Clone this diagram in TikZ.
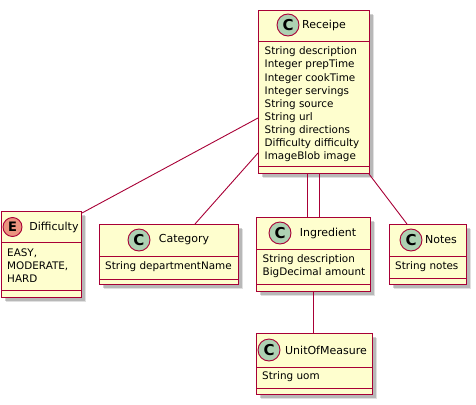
\documentclass[tikz,border=0pt]{standalone}
\usepackage{fontspec}
\setmainfont{DejaVu Sans}
\usetikzlibrary{calc,shadows}
\definecolor{umlfill}{HTML}{FEFECE}
\definecolor{umlline}{HTML}{A80036}
\definecolor{cspot}{HTML}{ADD1B2}
\definecolor{espot}{HTML}{EB937F}
\begin{document}
\begin{tikzpicture}[x=1pt,y=-1pt,
 classbox/.style={draw=umlline, fill=umlfill, line width=1pt, rectangle, inner sep=0pt, anchor=north west,
   general shadow={shadow xshift=4.5pt, shadow yshift=-4.5pt, opacity=0.12, fill=black},
   general shadow={shadow xshift=3.5pt, shadow yshift=-3.5pt, opacity=0.18, fill=black}},
 sepline/.style={draw=umlline, line width=1pt},
 link/.style={draw=umlline, line width=0.9pt},
 spotc/.style={circle, draw=umlline, fill=cspot, line width=0.9pt, minimum size=22pt, inner sep=0pt,
   font=\fontsize{15}{15}\selectfont\bfseries},
 spote/.style={spotc, fill=espot, minimum size=19pt, font=\fontsize{13}{13}\selectfont\bfseries},
 ctitle/.style={font=\fontsize{11}{13}\selectfont, inner sep=0pt},
 attr/.style={font=\fontsize{10.4}{12}\selectfont, inner sep=0pt, anchor=west},
]
\useasboundingbox (0,0) rectangle (476,404);

% Receipe
\node[classbox, minimum width=111pt, minimum height=163pt] (rec) at (258,10) {};
\draw[sepline] ($(rec.north west)+(0,32)$) -- ($(rec.north east)+(0,32)$);
\draw[sepline] ($(rec.south west)+(0,-8)$) -- ($(rec.south east)+(0,-8)$);
\node[spotc] (recspot) at (288,25) {C};
\node[ctitle] (rectitle) at (324,25) {Receipe};
\foreach \t [count=\i from 0] in {String description,Integer prepTime,Integer cookTime,Integer servings,String source,String url,String directions,Difficulty difficulty,ImageBlob image}
  \node[attr] (reca\i) at (264.5,52+13.1*\i) {\t};

% Difficulty
\node[classbox, minimum width=80pt, minimum height=86pt] (dif) at (1,211) {};
\draw[sepline] ($(dif.north west)+(0,31)$) -- ($(dif.north east)+(0,31)$);
\draw[sepline] ($(dif.south west)+(0,-8)$) -- ($(dif.south east)+(0,-8)$);
\node[spote] (difspot) at (12.5,227) {E};
\node[ctitle] (diftitle) at (54,227) {Difficulty};
\node[attr] (difa0) at (7,253) {EASY,};
\node[attr] (difa1) at (7,266) {MODERATE,};
\node[attr] (difa2) at (7,279) {HARD};

% Category
\node[classbox, minimum width=139pt, minimum height=60pt] (cat) at (99,224) {};
\draw[sepline] ($(cat.north west)+(0,32)$) -- ($(cat.north east)+(0,32)$);
\draw[sepline] ($(cat.south west)+(0,-6)$) -- ($(cat.south east)+(0,-6)$);
\node[spotc] (catspot) at (139,240) {C};
\node[ctitle] (cattitle) at (184,240) {Category};
\node[attr] (cata0) at (105,267) {String departmentName};

% Ingredient
\node[classbox, minimum width=114pt, minimum height=74pt] (ing) at (256,217) {};
\draw[sepline] ($(ing.north west)+(0,32)$) -- ($(ing.north east)+(0,32)$);
\draw[sepline] ($(ing.south west)+(0,-8)$) -- ($(ing.south east)+(0,-8)$);
\node[spotc] (ingspot) at (280,233) {C};
\node[ctitle] (ingtitle) at (328,233) {Ingredient};
\node[attr] (inga0) at (262.5,260) {String description};
\node[attr] (inga1) at (262.5,273) {BigDecimal amount};

% Notes
\node[classbox, minimum width=77pt, minimum height=60pt] (notes) at (389,224) {};
\draw[sepline] ($(notes.north west)+(0,32)$) -- ($(notes.north east)+(0,32)$);
\draw[sepline] ($(notes.south west)+(0,-7)$) -- ($(notes.south east)+(0,-7)$);
\node[spotc] (notesspot) at (411,240) {C};
\node[ctitle] (notestitle) at (441,240) {Notes};
\node[attr] (notesa0) at (395,267) {String notes};

% UnitOfMeasure
\node[classbox, minimum width=116pt, minimum height=61pt] (uom) at (256,333) {};
\draw[sepline] ($(uom.north west)+(0,34)$) -- ($(uom.north east)+(0,34)$);
\draw[sepline] ($(uom.south west)+(0,-7)$) -- ($(uom.south east)+(0,-7)$);
\node[spotc] (uomspot) at (269,350) {C};
\node[ctitle] (uomtitle) at (326,350) {UnitOfMeasure};
\node[attr] (uoma0) at (262,377) {String uom};

% connectors
\draw[link] ($(rec.north west)+(0,108)$) -- ($(dif.north east)+(0,2)$);
\draw[link] ($(rec.north west)+(0,143)$) -- ($(cat.north west)+(96,0)$);
\draw[link] ($(rec.south west)+(49,0)$) -- ($(ing.north west)+(51,0)$);
\draw[link] ($(rec.south west)+(61,0)$) -- ($(ing.north west)+(63,0)$);
\draw[link] ($(rec.south east)+(-1,0)$) -- ($(notes.north west)+(18,0)$);
\draw[link] (ing.south) -- (ing.south |- uom.north);
\end{tikzpicture}
\end{document}
